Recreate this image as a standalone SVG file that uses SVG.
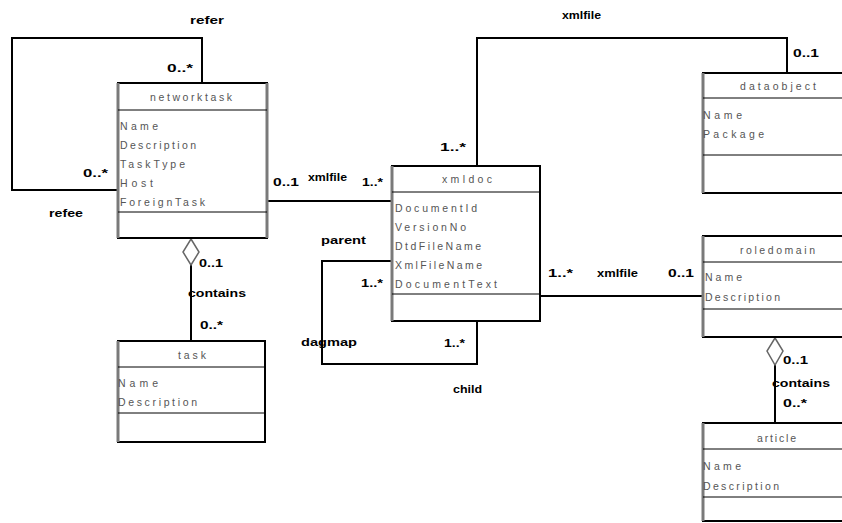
<svg xmlns="http://www.w3.org/2000/svg" width="842" height="523" viewBox="0 0 842 523">
<style>
.box{fill:#fff;stroke:#000;stroke-width:2}
.lft{stroke:#7a7a7a;stroke-width:3}
.sep{stroke:#000;stroke-width:1}
.attr{font-family:"Liberation Sans",Arial,sans-serif;font-size:10.5px;fill:#555}
.ttl{font-family:"Liberation Sans",Arial,sans-serif;font-size:10.5px;fill:#555}
.lbl{font-family:"Liberation Sans",Arial,sans-serif;font-size:11px;font-weight:bold;fill:#000}
.con{fill:none;stroke:#000;stroke-width:2}
.dia{fill:#fff;stroke:#666;stroke-width:1.5}
</style>
<rect width="842" height="523" fill="#fff"/>
<g id="connectors">
  <polyline class="con" points="202,83 202,38 12,38 12,190 118,190"/>
  <line class="con" x1="267" y1="201" x2="392" y2="201"/>
  <polyline class="con" points="392,261 322,261 322,364 477,364 477,321"/>
  <polyline class="con" points="477,166 477,38 787,38 787,73"/>
  <line class="con" x1="540" y1="296" x2="703" y2="296" stroke-width="1.6"/>
  <line class="con" x1="191" y1="265" x2="191" y2="341"/>
  <polygon class="dia" points="191,239 199,252 191,265 183,252"/>
  <line class="con" x1="775" y1="365" x2="775" y2="423"/>
  <polygon class="dia" points="775,338 783,351 775,365 767,351"/>
  <text class="lbl" x="190" y="24" textLength="34" lengthAdjust="spacingAndGlyphs">refer</text>
  <text class="lbl" x="167" y="72" textLength="26" lengthAdjust="spacingAndGlyphs">0..*</text>
  <text class="lbl" x="83" y="177" textLength="25" lengthAdjust="spacingAndGlyphs">0..*</text>
  <text class="lbl" x="49" y="217" textLength="34" lengthAdjust="spacingAndGlyphs">refee</text>
  <text class="lbl" x="273" y="186" textLength="26" lengthAdjust="spacingAndGlyphs">0..1</text>
  <text class="lbl" x="308" y="181" textLength="39" lengthAdjust="spacingAndGlyphs">xmlfile</text>
  <text class="lbl" x="362" y="186" textLength="21" lengthAdjust="spacingAndGlyphs">1..*</text>
  <text class="lbl" x="321" y="244" textLength="45" lengthAdjust="spacingAndGlyphs">parent</text>
  <text class="lbl" x="361" y="287" textLength="22" lengthAdjust="spacingAndGlyphs">1..*</text>
  <text class="lbl" x="301" y="346" textLength="56" lengthAdjust="spacingAndGlyphs">dagmap</text>
  <text class="lbl" x="444" y="347" textLength="21" lengthAdjust="spacingAndGlyphs">1..*</text>
  <text class="lbl" x="453" y="393" textLength="29" lengthAdjust="spacingAndGlyphs">child</text>
  <text class="lbl" x="562" y="19" textLength="39" lengthAdjust="spacingAndGlyphs">xmlfile</text>
  <text class="lbl" x="793" y="57" textLength="26" lengthAdjust="spacingAndGlyphs">0..1</text>
  <text class="lbl" x="440" y="151" textLength="26" lengthAdjust="spacingAndGlyphs">1..*</text>
  <text class="lbl" x="548" y="277" textLength="25" lengthAdjust="spacingAndGlyphs">1..*</text>
  <text class="lbl" x="597" y="277" textLength="41" lengthAdjust="spacingAndGlyphs">xmlfile</text>
  <text class="lbl" x="668" y="277" textLength="26" lengthAdjust="spacingAndGlyphs">0..1</text>
  <text class="lbl" x="199" y="267" textLength="24" lengthAdjust="spacingAndGlyphs">0..1</text>
  <text class="lbl" x="188" y="297" textLength="58" lengthAdjust="spacingAndGlyphs">contains</text>
  <text class="lbl" x="200" y="329" textLength="23" lengthAdjust="spacingAndGlyphs">0..*</text>
  <text class="lbl" x="783" y="364" textLength="25" lengthAdjust="spacingAndGlyphs">0..1</text>
  <text class="lbl" x="772" y="387" textLength="58" lengthAdjust="spacingAndGlyphs">contains</text>
  <text class="lbl" x="783" y="407" textLength="24" lengthAdjust="spacingAndGlyphs">0..*</text>
</g>
<g id="networktask">
  <rect class="box" x="118" y="83" width="149" height="155"/>
  <line class="lft" x1="118" y1="83" x2="118" y2="238"/>
  <line class="lft" x1="267" y1="83" x2="267" y2="238" stroke-width="2"/>
  <line class="sep" x1="118" y1="110" x2="267" y2="110"/>
  <line class="sep" x1="118" y1="212" x2="267" y2="212"/>
  <text class="ttl" x="150" y="101" textLength="82" lengthAdjust="spacing">networktask</text>
  <text class="attr" x="120" y="130" textLength="38" lengthAdjust="spacing">Name</text>
  <text class="attr" x="120" y="149" textLength="76" lengthAdjust="spacing">Description</text>
  <text class="attr" x="120" y="168" textLength="65" lengthAdjust="spacing">TaskType</text>
  <text class="attr" x="120" y="187" textLength="33" lengthAdjust="spacing">Host</text>
  <text class="attr" x="120" y="206" textLength="85" lengthAdjust="spacing">ForeignTask</text>
</g>
<g id="task">
  <rect class="box" x="118" y="341" width="147" height="101"/>
  <line class="lft" x1="118" y1="341" x2="118" y2="442"/>
  <line class="sep" x1="118" y1="367" x2="265" y2="367"/>
  <line class="sep" x1="118" y1="413" x2="265" y2="413"/>
  <text class="ttl" x="178" y="359" textLength="28" lengthAdjust="spacing">task</text>
  <text class="attr" x="118" y="387" textLength="40" lengthAdjust="spacing">Name</text>
  <text class="attr" x="118" y="406" textLength="79" lengthAdjust="spacing">Description</text>
</g>
<g id="xmldoc">
  <rect class="box" x="392" y="166" width="148" height="155"/>
  <line class="lft" x1="392" y1="166" x2="392" y2="321"/>
  <line class="sep" x1="392" y1="192" x2="540" y2="192"/>
  <line class="sep" x1="392" y1="294" x2="540" y2="294"/>
  <text class="ttl" x="442" y="183" textLength="50" lengthAdjust="spacing">xmldoc</text>
  <text class="attr" x="395" y="212" textLength="82" lengthAdjust="spacing">DocumentId</text>
  <text class="attr" x="395" y="231" textLength="71" lengthAdjust="spacing">VersionNo</text>
  <text class="attr" x="395" y="250" textLength="86" lengthAdjust="spacing">DtdFileName</text>
  <text class="attr" x="395" y="269" textLength="87" lengthAdjust="spacing">XmlFileName</text>
  <text class="attr" x="395" y="288" textLength="102" lengthAdjust="spacing">DocumentText</text>
</g>
<g id="dataobject">
  <rect class="box" x="703" y="73" width="150" height="120"/>
  <line class="lft" x1="703" y1="73" x2="703" y2="193"/>
  <line class="sep" x1="703" y1="98" x2="853" y2="98"/>
  <line class="sep" x1="703" y1="155" x2="853" y2="155"/>
  <text class="ttl" x="740" y="90" textLength="76" lengthAdjust="spacing">dataobject</text>
  <text class="attr" x="703" y="119" textLength="39" lengthAdjust="spacing">Name</text>
  <text class="attr" x="703" y="138" textLength="61" lengthAdjust="spacing">Package</text>
</g>
<g id="roledomain">
  <rect class="box" x="703" y="236" width="150" height="101"/>
  <line class="lft" x1="703" y1="236" x2="703" y2="337"/>
  <line class="sep" x1="703" y1="262" x2="853" y2="262"/>
  <line class="sep" x1="703" y1="309" x2="853" y2="309" stroke-width="1.5"/>
  <text class="ttl" x="740" y="254" textLength="75" lengthAdjust="spacing">roledomain</text>
  <text class="attr" x="705" y="281" textLength="37" lengthAdjust="spacing">Name</text>
  <text class="attr" x="705" y="301" textLength="75" lengthAdjust="spacing">Description</text>
</g>
<g id="article">
  <rect class="box" x="703" y="423" width="150" height="98"/>
  <line class="lft" x1="703" y1="423" x2="703" y2="521"/>
  <line class="sep" x1="703" y1="449" x2="853" y2="449" stroke="#999" stroke-width="2"/>
  <line class="sep" x1="703" y1="497" x2="853" y2="497" stroke="#555" stroke-width="1.5"/>
  <text class="ttl" x="757" y="442" textLength="39" lengthAdjust="spacing" fill="#333">article</text>
  <text class="attr" x="703" y="470" textLength="38" lengthAdjust="spacing">Name</text>
  <text class="attr" x="703" y="490" textLength="76" lengthAdjust="spacing">Description</text>
</g>
</svg>
